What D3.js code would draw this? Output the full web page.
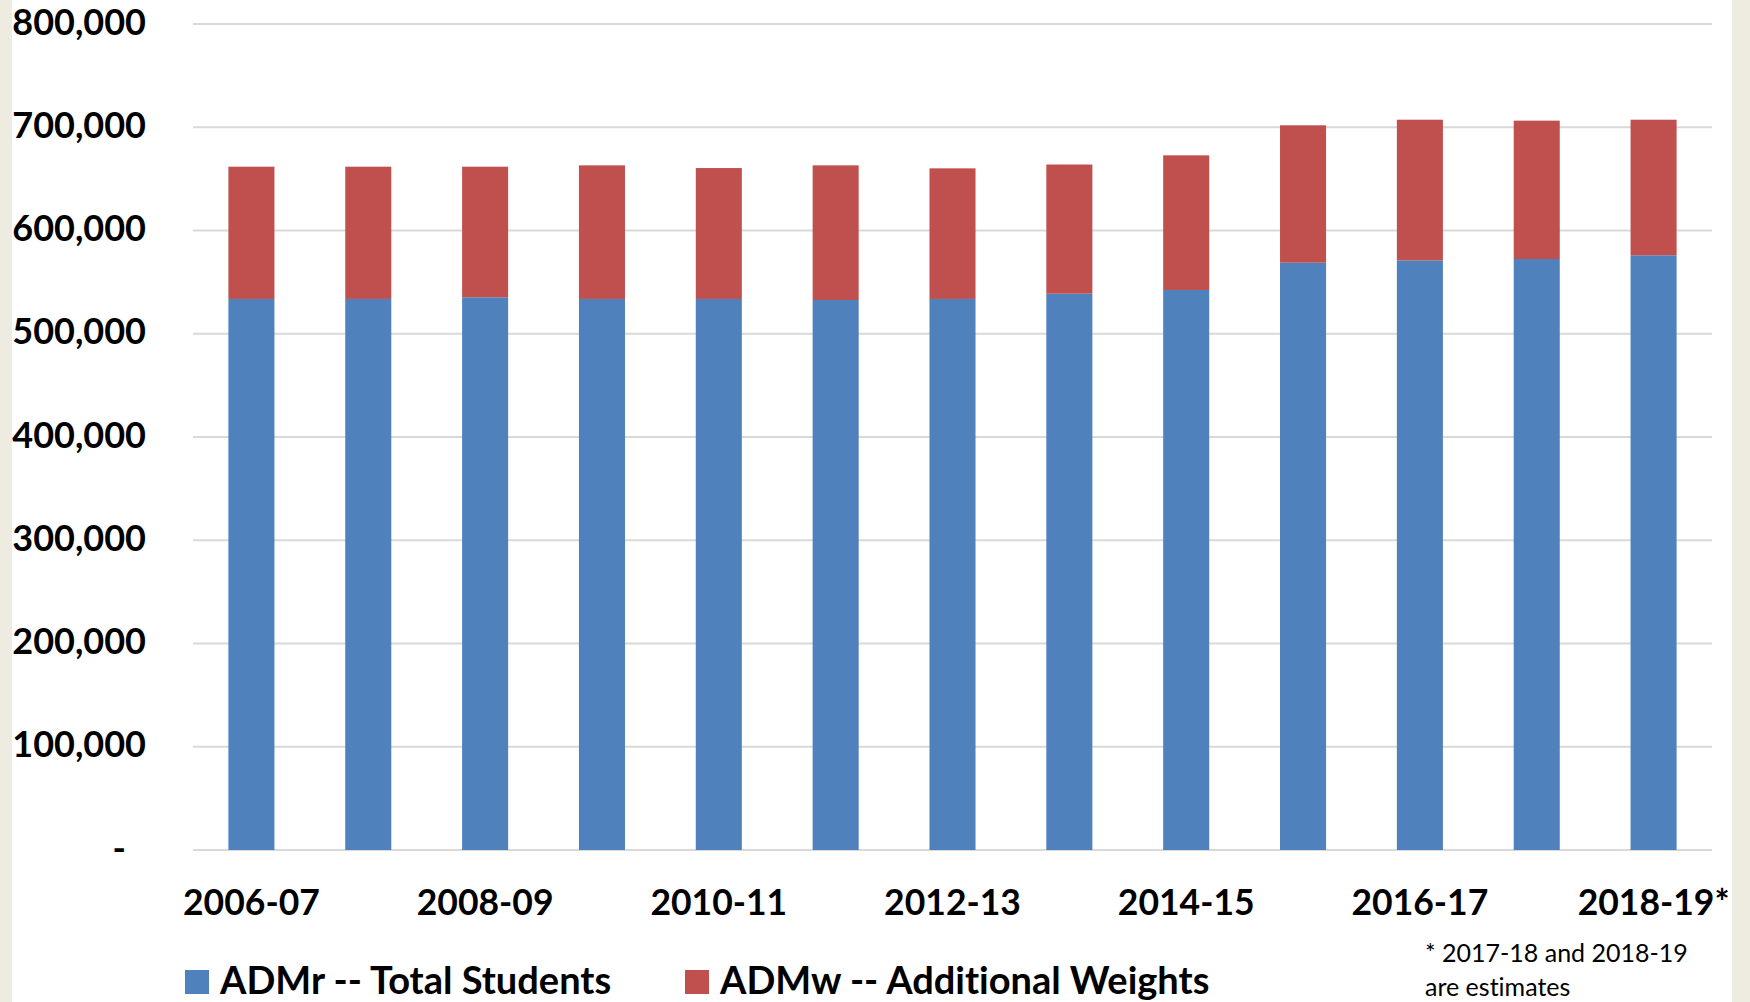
<!DOCTYPE html>
<html>
<head>
<meta charset="utf-8">
<script src="https://cdn.jsdelivr.net/npm/d3@7"></script>
<style>
  body { margin: 0; background: #fff; }
  svg { display: block; }
  text { font-family: Lato, "Open Sans", sans-serif; fill: #000; font-variant-ligatures: none; }
</style>
</head>
<body>
<svg id="chart"></svg>
<script>
const width = 1750;
const height = 1002;

// school years
const years = ["2006-07", "2007-08", "2008-09", "2009-10", "2010-11", "2011-12", "2012-13",
    "2013-14", "2014-15", "2015-16", "2016-17", "2017-18*", "2018-19*"];
// ADMr -- total students
const admR = [533700, 533700, 535300, 533700, 533700, 532700, 533700,
    538800, 542400, 568800, 571100, 572400, 576000];
// ADMw -- additional weights
const admW = [128100, 128100, 126500, 129400, 126800, 130400, 126500,
    125100, 130400, 133100, 136200, 134000, 131300];
const yTicks = [0, 100000, 200000, 300000, 400000, 500000, 600000, 700000, 800000];
const seriesNames = ["ADMr -- Total Students", "ADMw -- Additional Weights"];
const colors = ["#4f81bd", "#c0504d"];
const footnote = ["* 2017-18 and 2018-19", "are estimates"];

const svg = d3.select("#chart").attr("width", width).attr("height", height);

// beige page edges
svg.append("rect").attr("x", 0).attr("y", 0).attr("width", 12).attr("height", height).attr("fill", "#eeebe0");
svg.append("rect").attr("x", 1732).attr("y", 0).attr("width", 18).attr("height", height).attr("fill", "#eeebe0");

const x = d3.scaleBand()
    .domain(years)
    .range([193, 1712])
    .paddingInner(0.606)
    .paddingOuter(0.303);

const y = d3.scaleLinear()
    .domain([0, 800000])
    .range([850, 24]);

// gridlines
svg.append("g")
    .selectAll("line")
    .data(yTicks)
    .enter()
    .append("line")
    .attr("x1", 193)
    .attr("x2", 1712)
    .attr("y1", (d) => y(d))
    .attr("y2", (d) => y(d))
    .attr("stroke", "#d9d9d9")
    .attr("stroke-width", 2);

// y axis labels
const yAxis = svg.append("g")
    .attr("transform", "translate(146,0)")
    .call(d3.axisLeft(y)
        .tickValues(yTicks)
        .tickSize(0)
        .tickPadding(0)
        .tickFormat((d) => d === 0 ? "-" : d3.format(",")(d)));
yAxis.select(".domain").remove();
yAxis.selectAll("text")
    .attr("font-family", "Lato, sans-serif")
    .attr("font-size", 36)
    .attr("font-weight", 700)
    .attr("fill", "#000")
    .attr("dy", "0.28em")
    .attr("x", (d) => d === 0 ? -20 : 0);

// stacked bars
const stackData = years.map((yr, i) => ({ year: yr, r: admR[i], w: admW[i] }));
const stacked = d3.stack().keys(["r", "w"])(stackData);

svg.append("g")
    .selectAll("g")
    .data(stacked)
    .enter()
    .append("g")
    .attr("fill", (d, i) => colors[i])
    .selectAll("rect")
    .data((d) => d)
    .enter()
    .append("rect")
    .attr("x", (d) => x(d.data.year))
    .attr("y", (d) => y(d[1]))
    .attr("width", x.bandwidth())
    .attr("height", (d) => y(d[0]) - y(d[1]));

// x axis labels, every other year
const xAxis = svg.append("g")
    .attr("transform", "translate(0,889)")
    .call(d3.axisBottom(x)
        .tickValues(years.filter((d, i) => i % 2 === 0))
        .tickSize(0)
        .tickPadding(0));
xAxis.select(".domain").remove();
xAxis.selectAll("text")
    .attr("font-family", "Lato, sans-serif")
    .attr("font-size", 35.5)
    .attr("font-weight", 700)
    .attr("fill", "#000")
    .attr("dy", "0.72em");

// legend
const legendX = [185, 685];
const legend = svg.append("g")
    .selectAll("g")
    .data(seriesNames)
    .enter()
    .append("g")
    .attr("transform", (d, i) => `translate(${legendX[i]},970)`);
legend.append("rect")
    .attr("width", 24)
    .attr("height", 24)
    .attr("fill", (d, i) => colors[i]);
legend.append("text")
    .attr("x", 35)
    .attr("y", 24)
    .attr("font-size", 38)
    .attr("font-weight", 700)
    .text((d) => d);

// footnote
svg.append("g")
    .selectAll("text")
    .data(footnote)
    .enter()
    .append("text")
    .attr("x", 1425)
    .attr("y", (d, i) => 962 + i * 34)
    .attr("font-size", 25)
    .text((d) => d);
</script>
</body>
</html>
